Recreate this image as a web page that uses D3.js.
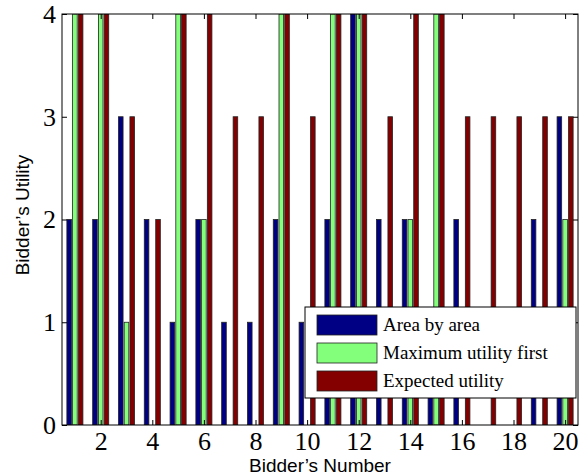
<!DOCTYPE html>
<html>
<head>
<meta charset="utf-8">
<script src="https://cdn.jsdelivr.net/npm/d3@7"></script>
<style>
  body { margin: 0; background: #fff; }
</style>
</head>
<body>
<div id="chart"></div>
<script>
// bidder numbers and the three strategies (bars above 4 are cut by the axis)
const bidders = d3.range(1, 21);
const seriesNames = ["Area by area", "Maximum utility first", "Expected utility"];
const areaByArea   = [2, 2, 3, 2, 1, 2, 1, 1, 2, 1, 2, 4, 2, 2, 1, 2, 0, 0, 2, 3];
const maxUtility   = [4, 4, 1, 0, 4, 2, 0, 0, 4, 0, 4, 4, 0, 2, 4, 0, 0, 0, 0, 2];
const expected     = [4, 4, 3, 2, 4, 4, 3, 3, 4, 3, 4, 4, 3, 4, 4, 3, 3, 3, 3, 3];
const colors = ["#000084", "#84ff7c", "#840000"];
const xTicks = [2, 4, 6, 8, 10, 12, 14, 16, 18, 20];
const yTicks = [0, 1, 2, 3, 4];

const width = 587, height = 476;
const margin = {top: 14, right: 9, bottom: 51, left: 62};
const w = width - margin.left - margin.right,
      h = height - margin.top - margin.bottom;

const svg = d3.select("#chart").append("svg")
  .attr("width", width).attr("height", height);

const g = svg.append("g")
  .attr("transform", `translate(${margin.left},${margin.top})`);

const x = d3.scaleLinear().domain([0.5, 20.5]).range([0, w]);
const y = d3.scaleLinear().domain([0, 4]).range([h, 0]);

const series = [areaByArea, maxUtility, expected];
const offset = 0.222, barW = 0.178;

g.append("clipPath").attr("id", "plotclip")
  .append("rect").attr("width", w).attr("height", h);

const bars = g.append("g").attr("clip-path", "url(#plotclip)");

series.forEach(function(vals, s) {
  bars.selectAll(".bar" + s)
    .data(vals)
    .enter()
    .append("rect")
    .attr("x", (d, i) => x(bidders[i] + (s - 1) * offset - barW / 2))
    .attr("width", x(barW) - x(0))
    .attr("y", d => y(d))
    .attr("height", d => y(0) - y(d))
    .attr("fill", colors[s])
    .attr("stroke", "#222")
    .attr("stroke-width", 0.8);
});

// axes with inside ticks on all four sides
const tickLen = 5;
g.append("g").attr("transform", `translate(0,${h})`)
  .call(d3.axisBottom(x).tickValues(xTicks).tickSize(-tickLen).tickPadding(7))
  .call(a => a.select(".domain").remove());
g.append("g")
  .call(d3.axisTop(x).tickValues(xTicks).tickSize(-tickLen).tickFormat(""))
  .call(a => a.select(".domain").remove());
g.append("g")
  .call(d3.axisLeft(y).tickValues(yTicks).tickSize(-tickLen).tickPadding(6)
    .tickFormat(d3.format("d")))
  .call(a => a.select(".domain").remove());
g.append("g").attr("transform", `translate(${w},0)`)
  .call(d3.axisRight(y).tickValues(yTicks).tickSize(-tickLen).tickFormat(""))
  .call(a => a.select(".domain").remove());

g.selectAll(".tick line").attr("stroke", "#000");
g.selectAll(".tick text")
  .attr("fill", "#000")
  .attr("font-family", "Liberation Serif, serif")
  .attr("font-size", 26);

g.append("rect")
  .attr("width", w).attr("height", h)
  .attr("fill", "none").attr("stroke", "#000").attr("stroke-width", 1);

// axis labels
svg.append("text")
  .attr("x", margin.left + w / 2).attr("y", 472)
  .attr("text-anchor", "middle")
  .attr("font-family", "Liberation Sans, Arial, sans-serif")
  .attr("font-size", 19)
  .text("Bidder\u2019s Number");

svg.append("text")
  .attr("transform", "translate(29,215) rotate(-90)")
  .attr("text-anchor", "middle")
  .attr("font-family", "Liberation Sans, Arial, sans-serif")
  .attr("font-size", 19)
  .text("Bidder\u2019s Utility");

// legend
const legend = svg.append("g").attr("transform", "translate(305,307)");
legend.append("rect")
  .attr("width", 271).attr("height", 91)
  .attr("fill", "#fff").attr("stroke", "#000").attr("stroke-width", 1);

const item = legend.selectAll(".item")
  .data(seriesNames)
  .enter()
  .append("g")
  .attr("transform", (d, i) => `translate(12,${8 + i * 28})`);

item.append("rect")
  .attr("width", 60).attr("height", 20)
  .attr("fill", (d, i) => colors[i])
  .attr("stroke", "#222").attr("stroke-width", 0.8);

item.append("text")
  .attr("x", 66).attr("y", 16)
  .attr("font-family", "Liberation Serif, serif")
  .attr("font-size", 19)
  .text(d => d);
</script>
</body>
</html>
